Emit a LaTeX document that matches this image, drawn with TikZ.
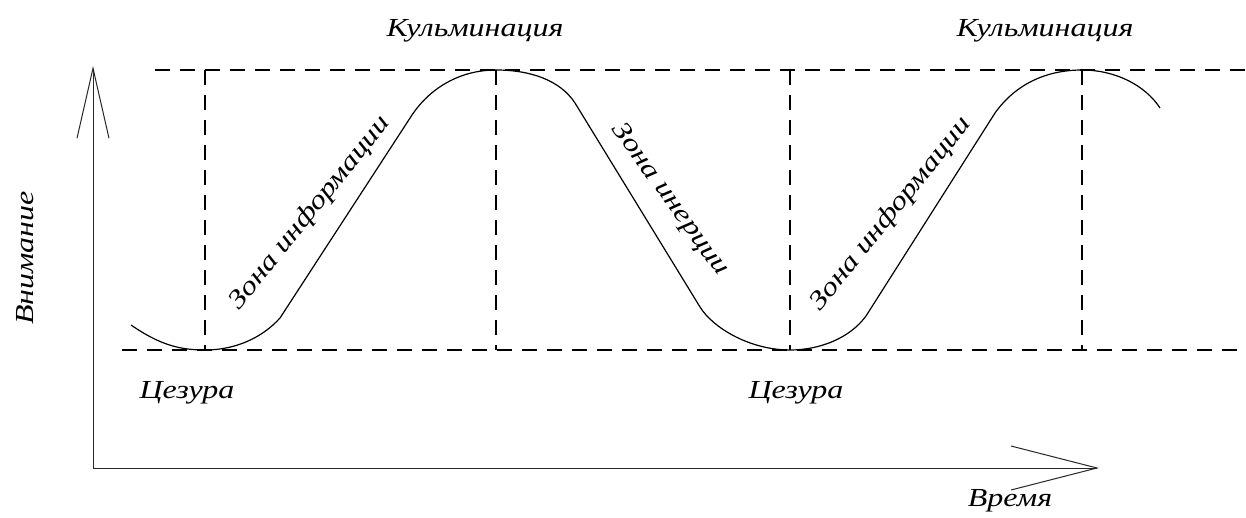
\documentclass[tikz,border=0pt]{standalone}
\usepackage{fontspec}
\setmainfont{Liberation Serif}[FakeStretch=1.23]
\usetikzlibrary{arrows.meta}
\begin{document}
\begin{tikzpicture}[x=0.5pt, y=-0.5pt,
  every node/.style={font=\fontsize{13}{15}\selectfont\itshape},
  guide/.style={line width=1pt, dash pattern=on 7.5pt off 5pt},
  wave/.style={line width=0.6pt},
  axis/.style={line width=0.5pt, black!85}]
  \useasboundingbox (0,0) rectangle (1246,518);
  % axes
  \coordinate (O) at (93,468);
  \coordinate (ytop) at (93,66);
  \coordinate (xend) at (1099,468);
  \draw[axis,-{Straight Barb[length=35pt,width=16pt]}] (O) -- (ytop);
  \draw[axis,-{Straight Barb[length=43pt,width=22pt]}] (O) -- (xend);
  % guide lines
  \draw[guide] (155,70) -- (1246,70);
  \draw[guide] (122,350) -- (1246,350);
  \foreach \x in {205,496,790,1082}
    \draw[guide] (\x,70) -- (\x,350);
  % attention curve
  \draw[wave] (131,325) .. controls (160,345) and (180,350) .. (205,350)
    .. controls (235,350) and (262,338) .. (280,318) -- (412,115)
    .. controls (430,88) and (460,70) .. (496,70)
    .. controls (530,70) and (560,80) .. (575,103) -- (700,307)
    .. controls (713,328) and (750,350) .. (790,350)
    .. controls (820,350) and (850,338) .. (866,316) -- (995,113)
    .. controls (1015,85) and (1045,70) .. (1082,70)
    .. controls (1115,70) and (1145,85) .. (1160,108);
  % zone labels
  \node[rotate=51] (info1) at (310,213) {Зона информации};
  \node[rotate=-54] (inert) at (670,200) {Зона инерции};
  \node[rotate=51] (info2) at (891,214) {Зона информации};
  % labels
  \node (top1) at (475,31) {Кульминация};
  \node (top2) at (1045,31) {Кульминация};
  \node (pause1) at (187,393) {Цезура};
  \node (pause2) at (796,393) {Цезура};
  \node (time) at (1010,501) {Время};
  \node[rotate=90] (attn) at (25,258) {Внимание};
\end{tikzpicture}
\end{document}
